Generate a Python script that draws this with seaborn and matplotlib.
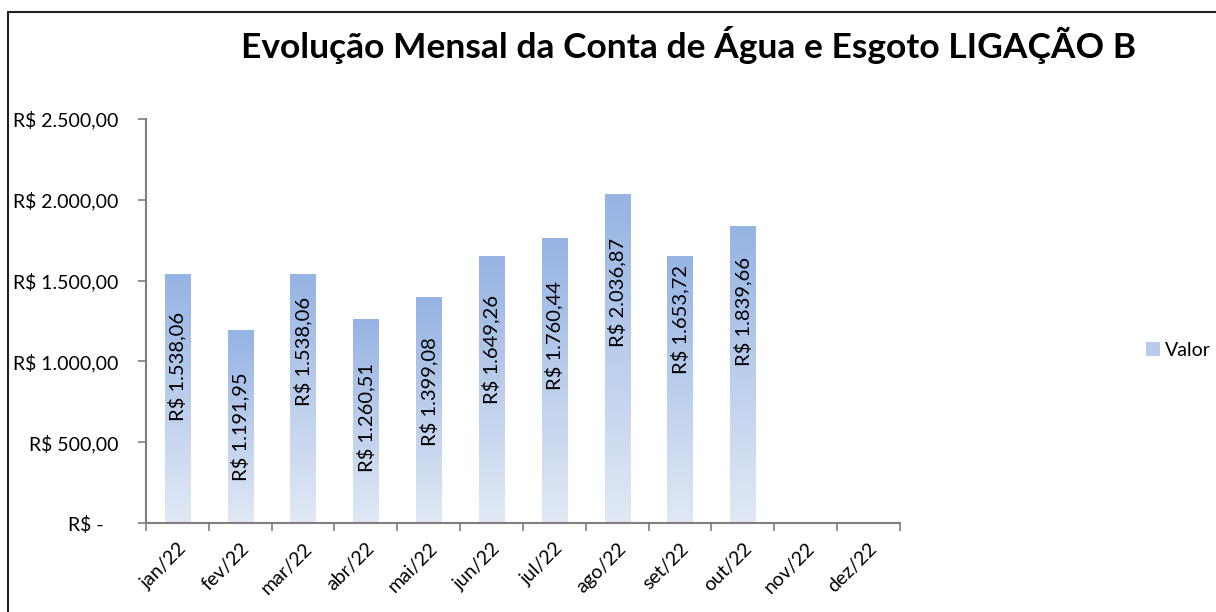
import numpy as np
import pandas as pd
import matplotlib.pyplot as plt
import seaborn as sns
from matplotlib.colors import LinearSegmentedColormap
from matplotlib.lines import Line2D
from matplotlib.patches import Rectangle

# Dados
meses = ["jan/22", "fev/22", "mar/22", "abr/22", "mai/22", "jun/22",
         "jul/22", "ago/22", "set/22", "out/22", "nov/22", "dez/22"]
valores = [1538.06, 1191.95, 1538.06, 1260.51, 1399.08, 1649.26,
           1760.44, 2036.87, 1653.72, 1839.66]
y_ticks = [0, 500, 1000, 1500, 2000, 2500]

# posicao do rotulo dentro de cada barra (fracao da altura), como no original
label_frac = [0.63, 0.50, 0.69, 0.52, 0.58, 0.65, 0.66, 0.70, 0.76, 0.71]


def brl(v):
    s = f"{v:,.2f}".replace(",", "X").replace(".", ",").replace("X", ".")
    return "R$ " + s


sns.set_theme(style="white")
plt.rcParams["font.family"] = ["Lato", "DejaVu Sans"]
plt.rcParams["text.color"] = "black"
plt.rcParams["xtick.color"] = "black"
plt.rcParams["ytick.color"] = "black"

df = pd.DataFrame({"mes": meses[:len(valores)], "valor": valores})

fig = plt.figure(figsize=(12.16, 6.12), dpi=100)
ax = fig.add_axes([0.120, 0.1454, 0.620, 0.6602])

sns.barplot(data=df, x="mes", y="valor", order=meses, width=0.40,
            color="#9AB5E4", ax=ax, zorder=2)

top_c = "#95B3E3"
bot_c = "#E2E9F5"
cmap = LinearSegmentedColormap.from_list("grad", [bot_c, top_c])
grad = np.linspace(0, 1, 256).reshape(-1, 1)

for p in ax.patches:
    x0, w, h = p.get_x(), p.get_width(), p.get_height()
    if np.isnan(h) or h == 0:
        continue
    p.set_facecolor("none")
    p.set_edgecolor("none")
    im = ax.imshow(grad, extent=[x0, x0 + w, 0, h], origin="lower",
                   cmap=cmap, aspect="auto", zorder=2)
    im.set_clip_path(p)

for i, v in enumerate(valores):
    ax.text(i, v * label_frac[i], brl(v), rotation=90, ha="center",
            va="center", fontsize=14.5, color="black", zorder=3)

ax.set_xlim(-0.5, len(meses) - 0.5)
ax.set_ylim(0, 2500)
ax.set_yticks(y_ticks)
ax.set_yticklabels(["R$ -   "] + [brl(t) for t in y_ticks[1:]], fontsize=14,
                   color="black")

# ticks nas divisoes das categorias, rotulos no centro
ax.set_xticks(np.arange(-0.5, len(meses), 1))
ax.set_xticklabels([])
ax.set_xticks(np.arange(len(meses)), minor=True)
ax.set_xticklabels(meses, minor=True, rotation=45, ha="right",
                   rotation_mode="anchor", fontsize=14, color="black")
ax.tick_params(axis="x", which="major", direction="out", length=6,
               color="#7F7F7F", width=1.2, bottom=True)
ax.tick_params(axis="x", which="minor", length=0, pad=12, bottom=True)
ax.tick_params(axis="y", direction="out", length=6, color="#7F7F7F",
               width=1.2, pad=14, left=True)

ax.set_xlabel("")
ax.set_ylabel("")
for s in ["top", "right"]:
    ax.spines[s].set_visible(False)
for s in ["left", "bottom"]:
    ax.spines[s].set_color("#7F7F7F")
    ax.spines[s].set_linewidth(1.5)

fig.text(0.566, 0.926, "Evolução Mensal da Conta de Água e Esgoto LIGAÇÃO B",
         ha="center", va="center", fontsize=25.5, fontweight="bold",
         color="black")

handle = Rectangle((0, 0), 1, 1, facecolor="#B8CBEC", edgecolor="none")
fig.legend([handle], ["Valor"], loc="center left",
           bbox_to_anchor=(0.928, 0.428), frameon=False, fontsize=14,
           handlelength=0.7, handleheight=0.7, handletextpad=0.3)

# moldura do grafico
fig.add_artist(Line2D([8 / 1216, 8 / 1216], [0, 1 - 12 / 612],
                      transform=fig.transFigure, color="#222222", lw=1.5))
fig.add_artist(Line2D([8 / 1216, 1], [1 - 12 / 612, 1 - 12 / 612],
                      transform=fig.transFigure, color="#222222", lw=1.5))

fig.savefig("out.png", dpi=100)
